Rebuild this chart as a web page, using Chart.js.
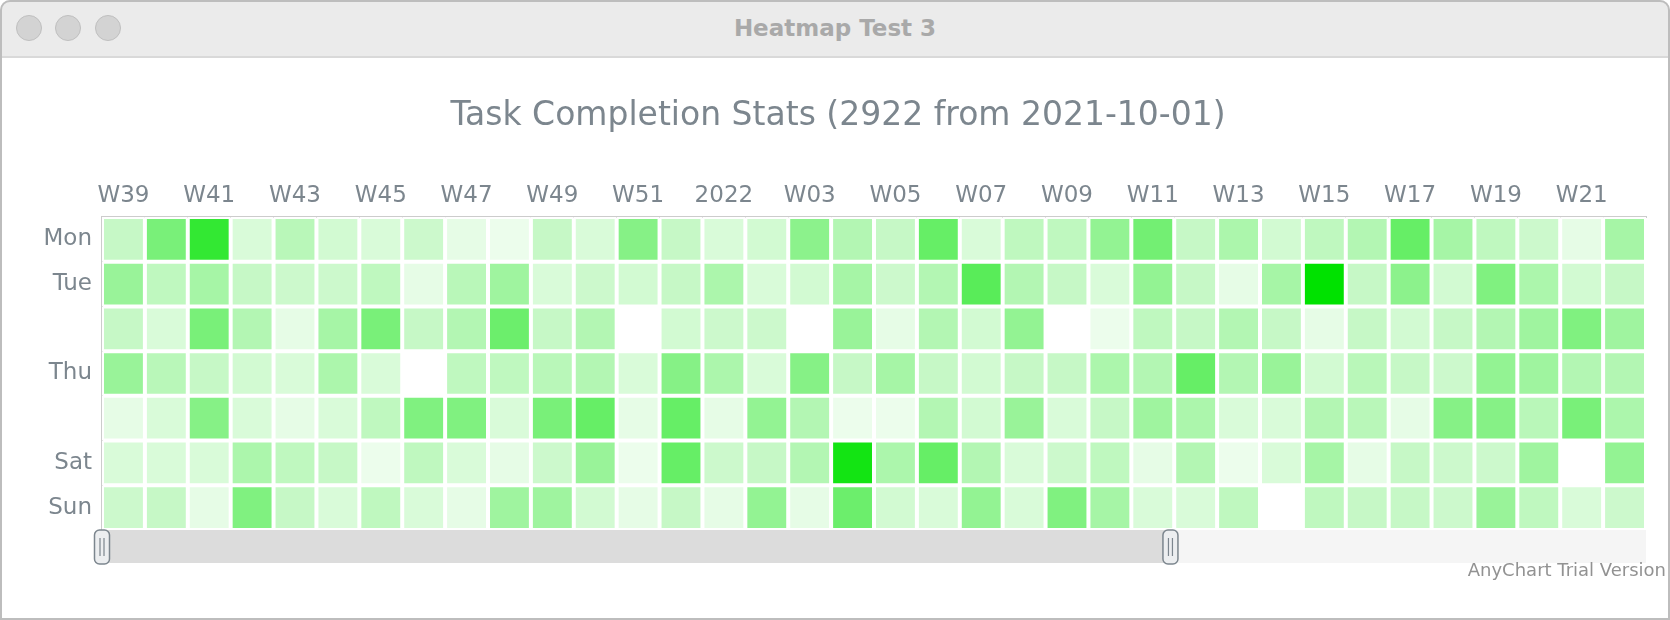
<!DOCTYPE html>
<html><head><meta charset="utf-8">
<script src="https://cdn.jsdelivr.net/npm/chart.js@4/dist/chart.umd.min.js"></script>
<style>
html,body{margin:0;padding:0;background:#fff;width:1670px;height:620px;overflow:hidden;}
#win{position:absolute;left:0;top:0;width:1670px;height:620px;overflow:hidden;background:#fff;}
#bar{position:absolute;left:0;top:0;width:1670px;height:56px;background:#ebebeb;border-bottom:2px solid #d9d9d9;border-radius:10px 10px 0 0;}
.dot{position:absolute;top:15px;width:24px;height:24px;border-radius:50%;background:#d3d3d3;border:1px solid #bfbfbf;}
#wt{position:absolute;left:0;top:0;width:1670px;height:56px;line-height:56px;text-align:center;font-weight:bold;font-size:23px;font-family:"DejaVu Sans",sans-serif;color:#a9a9a9;}
#frame{position:absolute;left:0;top:0;width:1666px;height:616px;border:2px solid #bdbdbd;border-radius:10px 10px 0 0;pointer-events:none;z-index:3;}
#cv{position:absolute;left:0;top:58px;}
</style>
</head>
<body>
<div id="win">
  <div id="bar">
    <div class="dot" style="left:16px"></div>
    <div class="dot" style="left:55px"></div>
    <div class="dot" style="left:95px"></div>
    <div id="wt">Heatmap Test 3</div>
  </div>
  <canvas id="cv" width="1670" height="562"></canvas>
  <div id="frame"></div>
</div>
<script>
// ---- data ----
const days = ['Mon','Tue','Wed','Thu','Fri','Sat','Sun'];
const dayTickLabels = ['Mon','Tue','','Thu','','Sat','Sun'];
const weeks = ['W39','W40','W41','W42','W43','W44','W45','W46','W47','W48','W49','W50','W51','W52',
               'W01','W02','W03','W04','W05','W06','W07','W08','W09','W10','W11','W12','W13','W14',
               'W15','W16','W17','W18','W19','W20','W21','W22'];
const weekTickLabels = ['W39','','W41','','W43','','W45','','W47','','W49','','W51','',
                        '2022','','W03','','W05','','W07','','W09','','W11','','W13','',
                        'W15','','W17','','W19','','W21',''];
// tasks completed per day (null = no data)
const mon = [9,21,32,6,11,7,6,8,4,3,9,6,19,9,6,7,18,12,9,24,6,10,10,17,22,9,13,7,10,12,24,14,10,8,4,14];
const tue = [16,10,14,9,8,8,10,4,11,15,6,8,7,9,13,6,7,14,8,12,26,12,9,6,17,9,4,14,40,9,18,7,20,13,7,9];
const wed = [9,6,21,12,4,14,21,9,12,23,9,12,null,7,8,8,null,16,4,12,7,17,null,3,10,9,12,9,4,9,7,9,12,15,20,15];
const thu = [16,11,9,7,6,13,6,null,10,10,11,12,6,19,13,6,19,9,14,9,7,9,9,13,12,24,12,16,7,11,9,8,17,15,12,12];
const fri = [4,6,19,6,4,6,10,20,20,6,21,24,4,24,4,17,12,3,3,12,7,16,6,9,15,13,6,6,12,11,4,19,19,11,21,13];
const sat = [6,6,6,13,10,9,3,10,6,4,8,16,3,24,8,9,12,37,13,24,12,6,8,10,4,12,3,6,14,4,9,8,8,15,null,17];
const sun = [8,9,4,20,9,6,10,6,4,15,15,7,4,9,4,17,4,23,7,6,17,6,20,14,6,6,10,null,10,9,9,8,16,10,6,8];
const rows = [mon, tue, wed, thu, fri, sat, sun];
const VMAX = 40;

function cellColor(v){
  if (v === null || v === undefined) return '#ffffff';
  const t = Math.max(0, Math.min(1, v / VMAX));
  const rb = Math.round(255 * (1 - t));
  const g = Math.round(255 - t * 29);
  return 'rgb(' + rb + ',' + g + ',' + rb + ')';
}

const FONT = 'DejaVu Sans';
const LABEL = '#7c868e';

const scrollerPlugin = {
  id: 'scroller',
  afterDraw(chart){
    const ctx = chart.ctx, ca = chart.chartArea;
    const y0 = ca.bottom, h = 33;
    ctx.save();
    ctx.fillStyle = '#f5f5f5';
    ctx.fillRect(ca.left, y0, ca.right - ca.left, h);
    const x1 = ca.left + (ca.right - ca.left) * 0.692;
    ctx.fillStyle = '#dcdcdc';
    ctx.fillRect(ca.left, y0, x1 - ca.left, h);
    function thumb(cx){
      const w = 15, th = 34, x = cx - w/2, y = y0;
      ctx.beginPath();
      ctx.roundRect(x, y, w, th, 5);
      ctx.fillStyle = '#eceef0';
      ctx.fill();
      ctx.lineWidth = 1.5;
      ctx.strokeStyle = '#7c868e';
      ctx.stroke();
      ctx.beginPath();
      ctx.moveTo(cx - 2, y + 8); ctx.lineTo(cx - 2, y + th - 8);
      ctx.moveTo(cx + 2, y + 8); ctx.lineTo(cx + 2, y + th - 8);
      ctx.lineWidth = 1.2;
      ctx.stroke();
    }
    thumb(ca.left);
    thumb(x1);
    ctx.fillStyle = '#929292';
    ctx.font = '18px "' + FONT + '"';
    ctx.textAlign = 'right';
    ctx.textBaseline = 'alphabetic';
    ctx.fillText('AnyChart Trial Version', 1666, 518);
    ctx.restore();
  }
};

new Chart(document.getElementById('cv'), {
  type: 'bar',
  data: {
    labels: weeks,
    datasets: days.map((d, i) => ({
      label: d,
      data: weeks.map(() => 1),
      backgroundColor: (c) => cellColor(rows[i][c.dataIndex]),
      borderColor: '#ffffff',
      borderWidth: 2,
      borderSkipped: false,
      inflateAmount: 0,
      barPercentage: 1,
      categoryPercentage: 1
    }))
  },
  options: {
    responsive: false,
    animation: false,
    devicePixelRatio: 1,
    layout: { padding: { left: 6, right: 0, top: 0, bottom: 90 } },
    plugins: {
      legend: { display: false },
      title: {
        display: true,
        text: 'Task Completion Stats (2922 from 2021-10-01)',
        color: LABEL,
        font: { family: FONT, size: 33, weight: 'normal', lineHeight: 1.2 },
        padding: { top: 38.5, bottom: 0 }
      },
      tooltip: {
        callbacks: {
          title: (items) => weeks[items[0].dataIndex] + ' ' + days[items[0].datasetIndex],
          label: (item) => 'Tasks: ' + (rows[item.datasetIndex][item.dataIndex] ?? 'n/a')
        }
      }
    },
    scales: {
      x: {
        type: 'category',
        position: 'top',
        stacked: true,
        offset: true,
        grid: { display: false, drawTicks: false },
        border: { display: true, color: '#cccccc', width: 2 },
        ticks: {
          autoSkip: false, maxRotation: 0, minRotation: 0, padding: 7,
          color: LABEL, font: { family: FONT, size: 23 },
          callback: (v, i) => weekTickLabels[i]
        },
        afterFit: (s) => { s.height = 80.9; }
      },
      y: {
        type: 'linear',
        stacked: true,
        reverse: true,
        min: 0, max: 7,
        grid: { display: false, drawTicks: false },
        border: { display: true, color: '#cccccc', width: 2 },
        afterBuildTicks: (s) => { s.ticks = days.map((d, i) => ({ value: i + 0.5 })); },
        ticks: {
          padding: 10, color: LABEL, font: { family: FONT, size: 23 },
          callback: (v, i) => dayTickLabels[i]
        },
        afterFit: (s) => { s.width = 96; }
      },
      yRight: {
        type: 'linear',
        position: 'right',
        display: true,
        grid: { display: false, drawTicks: false },
        border: { display: false },
        ticks: { display: false },
        afterFit: (s) => { s.width = 24; }
      }
    }
  },
  plugins: [scrollerPlugin]
});
</script>
</body></html>
